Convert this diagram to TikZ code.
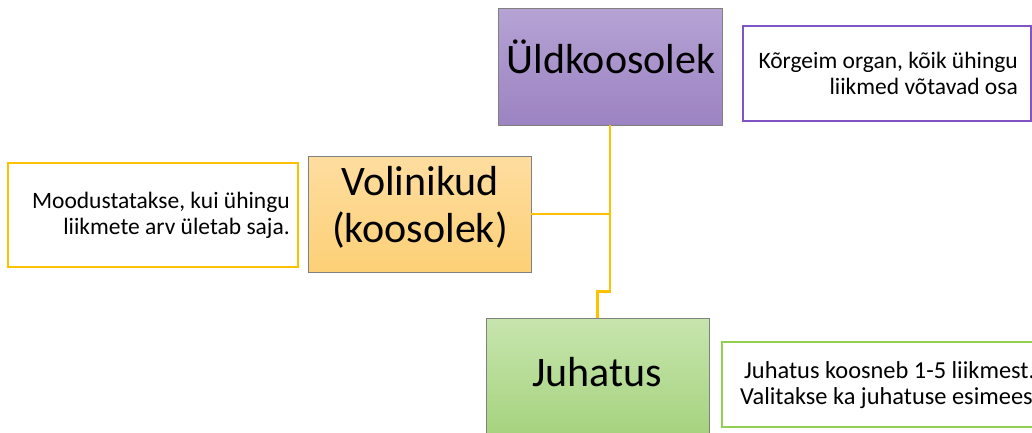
\documentclass[tikz,border=0pt]{standalone}
\usepackage{fontspec}
\setmainfont{Carlito}
\definecolor{uldTop}{RGB}{182,163,212}
\definecolor{uldBot}{RGB}{156,131,194}
\definecolor{volTop}{RGB}{254,221,160}
\definecolor{volBot}{RGB}{252,208,118}
\definecolor{juhTop}{RGB}{199,229,174}
\definecolor{juhBot}{RGB}{166,211,126}
\definecolor{boxGray}{RGB}{128,128,128}
\definecolor{purpleLine}{RGB}{128,84,196}
\definecolor{orangeLine}{RGB}{255,192,0}
\definecolor{greenLine}{RGB}{146,208,80}
\tikzset{
  orgbox/.style={draw=boxGray, line width=0.9pt, rectangle, inner sep=0pt},
  notebox/.style={rectangle, inner sep=0pt, fill=white, line width=1.3pt},
  conn/.style={draw=orangeLine, line width=2.4pt},
  bigtext/.style={inner sep=0pt, font=\fontsize{42}{47}\selectfont},
  smalltext/.style={inner sep=0pt, font=\fontsize{23.5}{26}\selectfont},
}
\begin{document}
\begin{tikzpicture}[x=1pt,y=-1pt]
\useasboundingbox (0,0) rectangle (1032,432);
\clip (0,0) rectangle (1032,432);
\fill[white] (0,0) rectangle (1032,432);
% organ boxes
\node[orgbox, top color=uldTop, bottom color=uldBot, minimum width=224pt, minimum height=117pt] (uld) at (610,66.5) {};
\node[orgbox, top color=volTop, bottom color=volBot, minimum width=223pt, minimum height=116pt] (vol) at (419.5,214) {};
\node[orgbox, top color=juhTop, bottom color=juhBot, minimum width=223pt, minimum height=117pt] (juh) at (597.5,376.5) {};
% note boxes
\node[notebox, draw=purpleLine, minimum width=288pt, minimum height=95pt] (uldnote) at (887,73.5) {};
\node[notebox, draw=orangeLine, minimum width=290pt, minimum height=104pt] (volnote) at (153,215) {};
\node[notebox, draw=greenLine, minimum width=334pt, minimum height=85pt] (juhnote) at (889,384.5) {};
% connectors
\draw[conn] (uld.south) -- ++(0,166) -| (juh.north);
\draw[conn] (vol.east) -- (vol.east -| uld.south);
% texts
\node[bigtext, anchor=base] (uldtext) at (611,73) {Üldkoosolek};
\node[bigtext, anchor=base] (voltext) at (420,195) {\begin{tabular}[t]{@{}c@{}}Volinikud\\(koosolek)\end{tabular}};
\node[bigtext, anchor=base] (juhtext) at (597,386) {Juhatus};
\node[smalltext, anchor=base east] (uldnotetext) at (1018,68) {\begin{tabular}[t]{@{}r@{}}Kõrgeim organ, kõik ühingu\\liikmed võtavad osa\end{tabular}};
\node[smalltext, anchor=base east] (volnotetext) at (290,208) {\begin{tabular}[t]{@{}r@{}}Moodustatakse, kui ühingu\\liikmete arv ületab saja.\end{tabular}};
\node[smalltext, font=\fontsize{24.4}{26}\selectfont, anchor=base] (juhnotetext) at (889.5,378) {\begin{tabular}[t]{@{}c@{}}Juhatus koosneb 1-5 liikmest.\\Valitakse ka juhatuse esimees.\end{tabular}};
\end{tikzpicture}
\end{document}
